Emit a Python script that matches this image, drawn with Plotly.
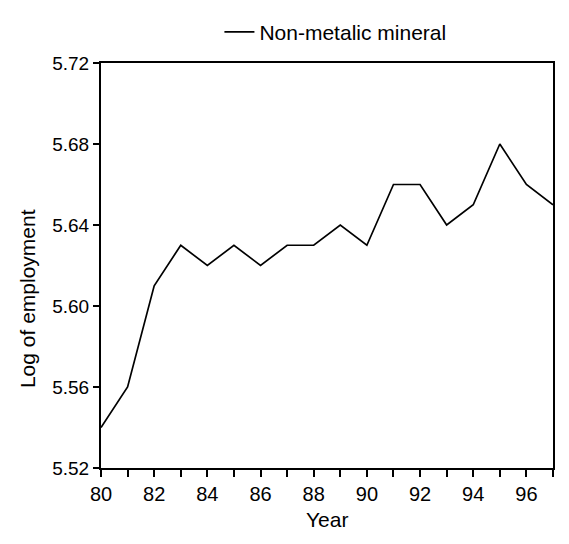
import plotly.graph_objects as go

# Log of employment, non-metallic mineral industry, 1980-1997
years = [80, 81, 82, 83, 84, 85, 86, 87, 88, 89, 90, 91, 92, 93, 94, 95, 96, 97]
log_employment = [5.54, 5.56, 5.61, 5.63, 5.62, 5.63, 5.62, 5.63, 5.63,
                  5.64, 5.63, 5.66, 5.66, 5.64, 5.65, 5.68, 5.66, 5.65]

x_tick_vals = years
x_tick_text = [str(y) if y % 2 == 0 and y < 97 else "" for y in years]
y_tick_vals = [5.52, 5.56, 5.60, 5.64, 5.68, 5.72]
y_tick_text = ["5.52", "5.56", "5.60", "5.64", "5.68", "5.72"]

FONT = "Liberation Sans, Arial, sans-serif"

fig = go.Figure()
fig.add_trace(go.Scatter(
    x=years, y=log_employment, mode="lines",
    name="Non-metalic mineral",
    line=dict(color="black", width=1.7),
))

fig.update_layout(
    width=569, height=544,
    margin=dict(l=101, r=16, t=53, b=76),
    paper_bgcolor="white", plot_bgcolor="white",
    font=dict(family=FONT, size=20, color="black"),
    showlegend=True,
    legend=dict(
        x=0.262, y=1.076, xanchor="left", yanchor="middle",
        bgcolor="rgba(0,0,0,0)", borderwidth=0,
        font=dict(size=21),
    ),
    xaxis=dict(
        range=[80, 97], tickmode="array",
        tickvals=x_tick_vals, ticktext=x_tick_text,
        ticks="outside", ticklen=7, tickwidth=1.5, tickcolor="black",
        showline=True, linewidth=2, linecolor="black", mirror=True,
        showgrid=False, zeroline=False,
        tickfont=dict(size=20),
    ),
    yaxis=dict(
        range=[5.52, 5.72], tickmode="array",
        tickvals=y_tick_vals, ticktext=y_tick_text,
        ticks="outside", ticklen=6, tickwidth=1.5, tickcolor="black",
        showline=True, linewidth=2, linecolor="black", mirror=True,
        showgrid=False, zeroline=False,
        tickfont=dict(size=19),
    ),
    annotations=[
        dict(text="Year", xref="paper", yref="paper",
             x=0.5, y=-0.128, xanchor="center", yanchor="middle",
             showarrow=False, font=dict(size=21)),
        dict(text="Log of employment", xref="paper", yref="paper",
             x=-0.162, y=0.419, xanchor="center", yanchor="middle",
             textangle=-90, showarrow=False, font=dict(size=21)),
    ],
)

fig.write_html("out.html")
